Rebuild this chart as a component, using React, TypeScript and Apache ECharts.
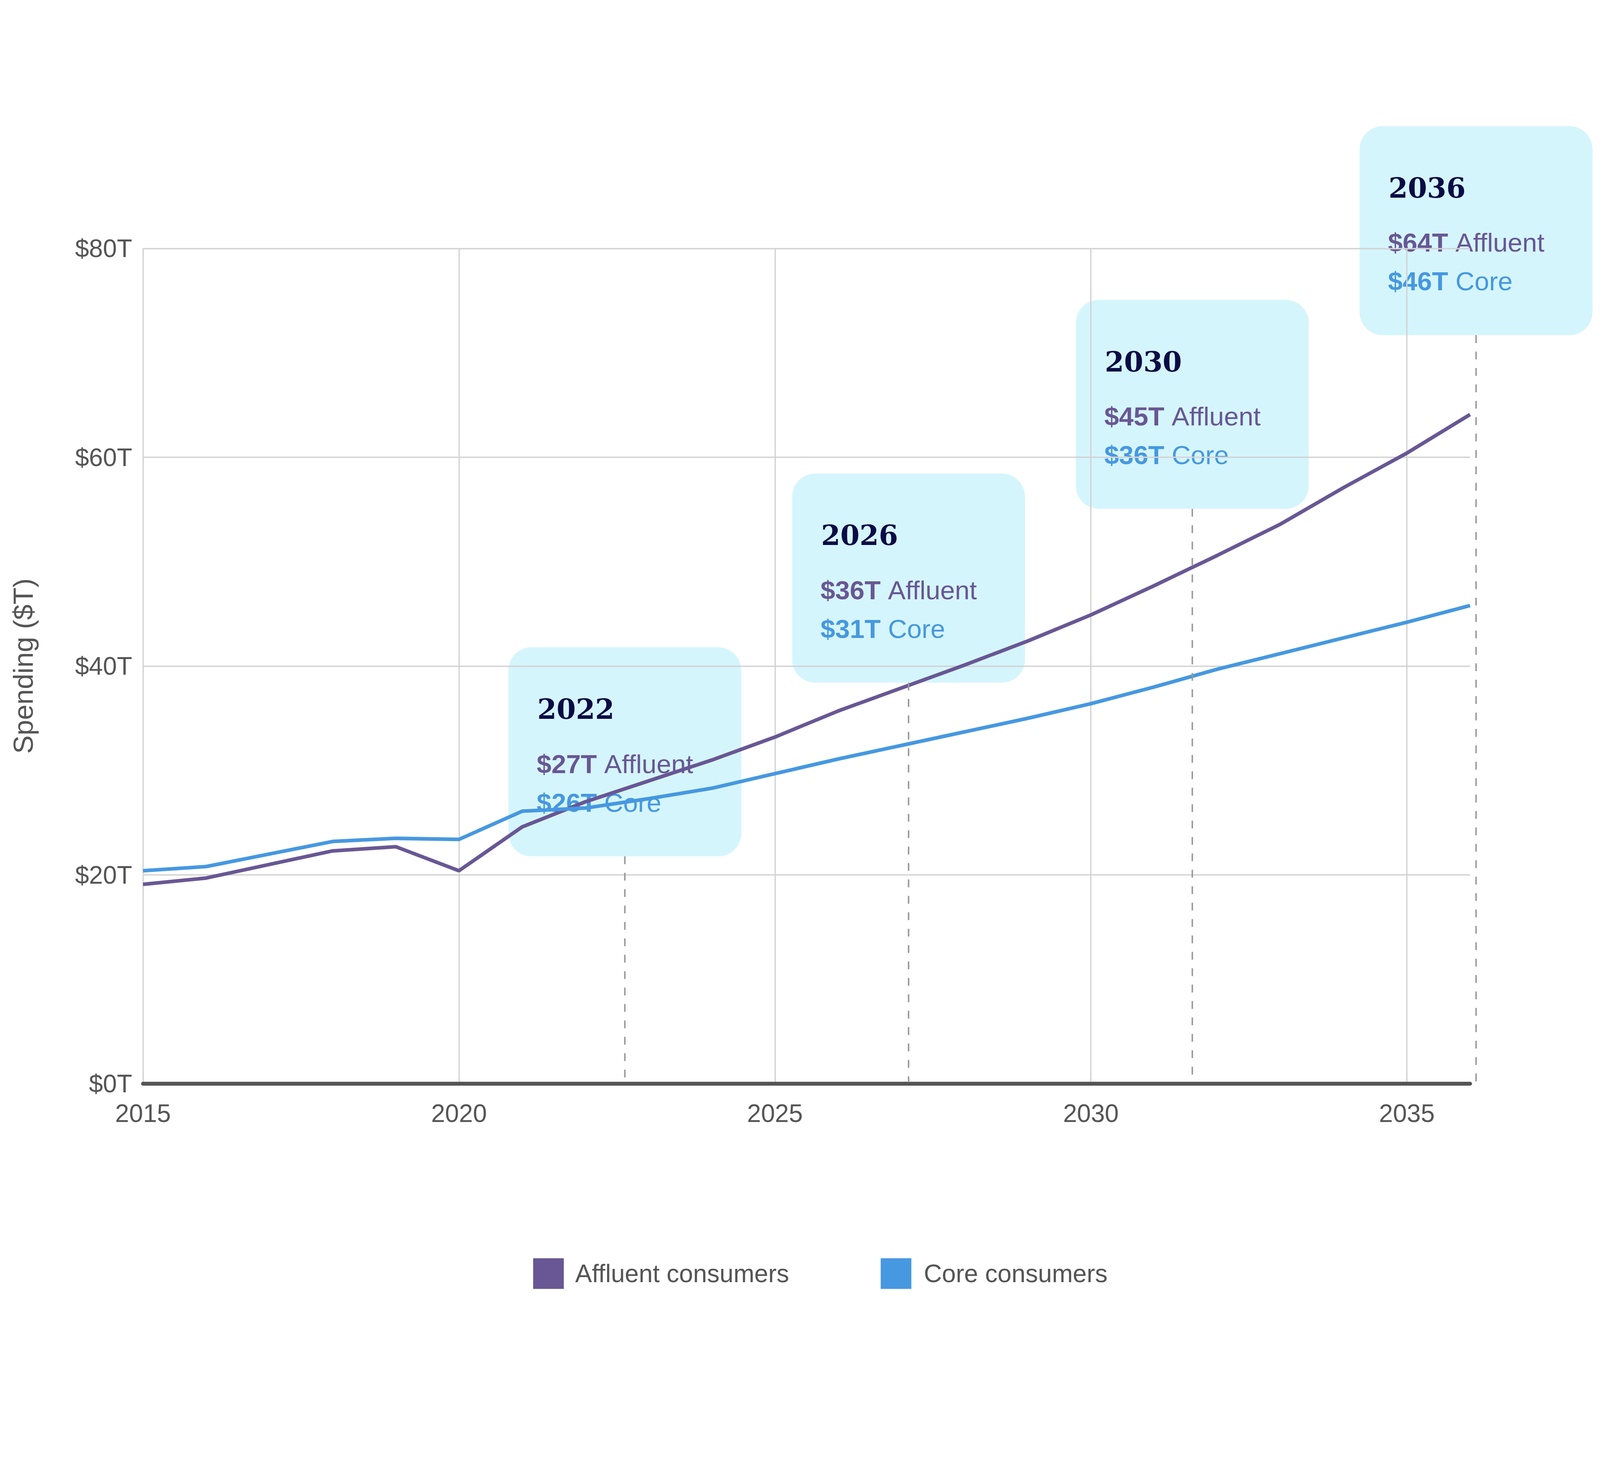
import { useEffect, useRef } from "react";
import * as echarts from "echarts";

const years = [
  2015, 2016, 2017, 2018, 2019, 2020, 2021, 2022, 2023, 2024, 2025,
  2026, 2027, 2028, 2029, 2030, 2031, 2032, 2033, 2034, 2035, 2036,
];
const affluent = [
  19.1, 19.7, 21.0, 22.3, 22.7, 20.4, 24.6, 27.0, 29.0, 31.0, 33.2,
  35.7, 37.9, 40.1, 42.4, 44.9, 47.7, 50.6, 53.6, 57.1, 60.4, 64.1,
];
const core = [
  20.4, 20.8, 22.0, 23.2, 23.5, 23.4, 26.1, 26.4, 27.3, 28.3, 29.7,
  31.1, 32.4, 33.7, 35.0, 36.4, 38.0, 39.7, 41.2, 42.7, 44.2, 45.8,
];
const yTicks = [0, 20, 40, 60, 80];
const seriesNames = ["Affluent consumers", "Core consumers"];

// callouts
const calloutYears = ["2022", "2026", "2030", "2036"];
const calloutAffluent = ["$27T", "$36T", "$45T", "$64T"];
const calloutCore = ["$26T", "$31T", "$36T", "$46T"];

const PURPLE = "#685794";
const BLUE = "#4698e0";
const GREY_TEXT = "#555555";
const SANS = '"Liberation Sans", Arial, sans-serif';
const SERIF = '"DejaVu Serif", serif';

// layout was measured on a 5750 x 3750 canvas
const BASE_W = 5750;
const BASE_H = 3750;

export default function App() {
  const chartRef = useRef<HTMLDivElement>(null);

  useEffect(() => {
    if (!chartRef.current) return;
    document.body.style.margin = "0";
    document.documentElement.style.overflow = "hidden";
    const W = Math.min(window.innerWidth, BASE_W);
    const H = Math.min(window.innerHeight, BASE_H);
    chartRef.current.style.width = `${W}px`;
    chartRef.current.style.height = `${H}px`;
    const sx = W / BASE_W;
    const sy = H / BASE_H;
    const f = Math.sqrt(sx * sy);
    const X = (v: number) => v * sx;
    const Y = (v: number) => v * sy;
    const F = (v: number) => v * f;

    const chart = echarts.init(chartRef.current, null, { renderer: "svg" });

    const gridLeft = 514;
    const gridRight = 5283;
    const gridTop = 636;
    const gridBottom = 2774;

    const boxW = 837;
    const boxH = 535;
    const graphics: any[] = [];
    calloutYears.forEach((yr, i) => {
      const bx = 1827 + i * 1019.7;
      const by = 1657 - i * 444.7;
      graphics.push({
        type: "line",
        z: 40,
        shape: {
          x1: X(bx + boxW / 2),
          y1: Y(by + boxH),
          x2: X(bx + boxW / 2),
          y2: Y(gridBottom - 4),
        },
        style: { stroke: "#999999", lineWidth: F(4.5), lineDash: [Y(20), Y(22)] },
      });
      graphics.push({
        type: "group",
        x: X(bx),
        y: Y(by),
        z: 50,
        children: [
          {
            type: "rect",
            shape: { x: 0, y: 0, width: X(boxW), height: Y(boxH), r: F(70) },
            style: { fill: "#d5f5fd" },
          },
          {
            type: "text",
            x: X(104),
            y: Y(158),
            style: {
              text: yr,
              fontSize: F(84),
              fontWeight: "bold",
              fontFamily: SERIF,
              fill: "#0b0b45",
              verticalAlign: "middle",
            },
          },
          {
            type: "text",
            x: X(102),
            y: Y(298),
            style: {
              text: `{v|${calloutAffluent[i]} }{l|Affluent}`,
              fontSize: F(80),
              fontFamily: SANS,
              fill: PURPLE,
              verticalAlign: "middle",
              rich: {
                v: { fontSize: F(80), fontWeight: "bold", fontFamily: SANS, fill: PURPLE },
                l: { fontSize: F(80), fontFamily: SANS, fill: PURPLE },
              },
            },
          },
          {
            type: "text",
            x: X(102),
            y: Y(397),
            style: {
              text: `{v|${calloutCore[i]} }{l|Core}`,
              fontSize: F(80),
              fontFamily: SANS,
              fill: BLUE,
              verticalAlign: "middle",
              rich: {
                v: { fontSize: F(80), fontWeight: "bold", fontFamily: SANS, fill: BLUE },
                l: { fontSize: F(80), fontFamily: SANS, fill: BLUE },
              },
            },
          },
        ],
      });
    });

    const marker = F(93);
    const legendBase = {
      top: Y(3260) - marker / 2,
      icon: "rect",
      itemWidth: marker,
      itemHeight: marker,
      padding: 0,
      itemStyle: { borderWidth: 0 },
    };
    const legendText = (markerLeft: number, textLeft: number) => ({
      fontSize: F(76),
      color: GREY_TEXT,
      fontFamily: SANS,
      padding: [0, 0, 0, Math.max(0, X(textLeft) - X(markerLeft) - marker - 5)],
    });

    const option: any = {
      animation: false,
      backgroundColor: "#ffffff",
      textStyle: { fontFamily: SANS },
      grid: {
        left: X(gridLeft),
        right: X(BASE_W - gridRight),
        top: Y(gridTop),
        bottom: Y(BASE_H - gridBottom),
        containLabel: false,
      },
      legend: [
        {
          ...legendBase,
          data: [seriesNames[0]],
          left: X(1916),
          textStyle: legendText(1916, 2067),
        },
        {
          ...legendBase,
          data: [seriesNames[1]],
          left: X(3165),
          textStyle: legendText(3165, 3320),
        },
      ],
      xAxis: {
        type: "value",
        min: 2015,
        max: 2036,
        interval: 5,
        axisLine: { show: true, lineStyle: { color: "#555555", width: F(12) } },
        axisTick: { show: false },
        axisLabel: {
          fontSize: F(76),
          color: GREY_TEXT,
          margin: Y(44),
          showMaxLabel: false,
          formatter: (v: number) => String(v),
        },
        splitLine: {
          show: true,
          showMaxLine: false,
          lineStyle: { color: "#d3d3d3", width: F(4) },
        },
      },
      yAxis: {
        type: "value",
        min: yTicks[0],
        max: yTicks[yTicks.length - 1],
        interval: 20,
        name: "Spending ($T)",
        nameLocation: "middle",
        nameGap: X(380),
        nameTextStyle: { fontSize: F(84), color: GREY_TEXT, fontFamily: SANS },
        axisLine: { show: false },
        axisTick: { show: false },
        axisLabel: {
          fontSize: F(76),
          color: GREY_TEXT,
          margin: X(39),
          formatter: (v: number) => `$${v}T`,
        },
        splitLine: { show: true, lineStyle: { color: "#d3d3d3", width: F(4) } },
      },
      series: [
        {
          name: seriesNames[0],
          type: "line",
          data: years.map((y, i) => [y, affluent[i]]),
          symbol: "none",
          lineStyle: { color: PURPLE, width: F(11) },
          itemStyle: { color: PURPLE },
          z: 3,
        },
        {
          name: seriesNames[1],
          type: "line",
          data: years.map((y, i) => [y, core[i]]),
          symbol: "none",
          lineStyle: { color: BLUE, width: F(11) },
          itemStyle: { color: BLUE },
          z: 3,
        },
      ],
      graphic: graphics,
    };

    chart.setOption(option);
    return () => chart.dispose();
  }, []);

  return <div ref={chartRef} style={{ position: "absolute", left: 0, top: 0 }} />;
}
